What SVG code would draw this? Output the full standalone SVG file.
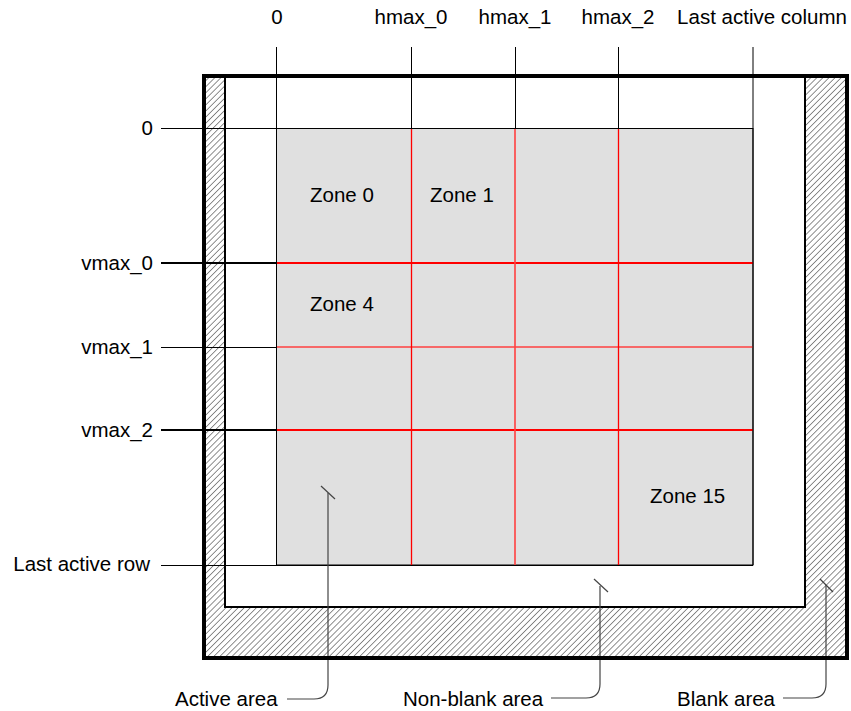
<svg xmlns="http://www.w3.org/2000/svg" width="851" height="711" viewBox="0 0 851 711">
<defs>
<pattern id="hatch" patternUnits="userSpaceOnUse" width="4.3" height="4.3" patternTransform="rotate(45)">
<line x1="0" y1="0" x2="0" y2="4.3" stroke="#333" stroke-width="1.1"/>
</pattern>
<style>
text{font-family:"Liberation Sans",Arial,sans-serif;font-size:20.5px;fill:#000}
.thin{stroke:#000;stroke-width:1;fill:none}
.thick{stroke:#000;stroke-width:2;fill:none}
.red2{stroke:#f00;stroke-width:2;fill:none}
.red1{stroke:#ff4040;stroke-width:1.6;fill:none}
.lead{stroke:#444;stroke-width:1.2;fill:none}
</style>
</defs>
<rect width="851" height="711" fill="#fff"/>
<g id="blank-area">
<rect x="204" y="76" width="643" height="582" fill="url(#hatch)"/>
</g>
<g id="non-blank-area">
<rect x="225" y="76" width="580" height="531" fill="#fff" stroke="#000" stroke-width="2"/>
</g>
<g id="active-area">
<rect x="276.5" y="128.5" width="476.5" height="436.5" fill="#e0e0e0" stroke="#000" stroke-width="1"/>
</g>
<g id="connectors">
<line class="thin" x1="161" y1="128.5" x2="753" y2="128.5"/>
<line class="thin" x1="161" y1="565.5" x2="753" y2="565.5"/>
<line class="thick" x1="161" y1="263" x2="276" y2="263"/>
<line class="thin" x1="161" y1="347.5" x2="276" y2="347.5" stroke="#555"/>
<line class="thick" x1="161" y1="430" x2="276" y2="430"/>
<line class="red2" x1="277" y1="263" x2="753" y2="263"/>
<line class="red1" x1="277" y1="347" x2="753" y2="347"/>
<line class="red2" x1="277" y1="430" x2="753" y2="430"/>
<line class="thin" x1="276.5" y1="47" x2="276.5" y2="565"/>
<line class="thin" x1="753" y1="47" x2="753" y2="565"/>
<line class="thin" x1="411.5" y1="47" x2="411.5" y2="128"/>
<line class="thin" x1="515.5" y1="47" x2="515.5" y2="128"/>
<line class="thin" x1="618.5" y1="47" x2="618.5" y2="128"/>
<line stroke="#f00" stroke-width="1.3" x1="411.5" y1="129" x2="411.5" y2="565"/>
<line class="red1" x1="515" y1="129" x2="515" y2="565"/>
<line stroke="#f00" stroke-width="1.3" x1="618.5" y1="129" x2="618.5" y2="565"/>
<path class="lead" d="M287 699 H314 Q328 699 328 685 V493"/>
<line class="lead" x1="321" y1="486" x2="335" y2="499"/>
<path class="lead" d="M551 698 H586 Q600 698 600 684 V586"/>
<line class="lead" x1="594" y1="579" x2="608" y2="592"/>
<path class="lead" d="M783 698 H812 Q826 698 826 684 V585"/>
<line class="lead" x1="820" y1="579" x2="833" y2="592"/>
</g>
<g id="outer-frame">
<rect x="204" y="76" width="643" height="582" fill="none" stroke="#000" stroke-width="4"/>
</g>
<g id="labels">
<text x="277" y="24" text-anchor="middle">0</text>
<text x="411" y="24" text-anchor="middle">hmax_0</text>
<text x="515" y="24" text-anchor="middle">hmax_1</text>
<text x="618" y="24" text-anchor="middle">hmax_2</text>
<text x="762" y="24" text-anchor="middle">Last active column</text>
<text x="153" y="135" text-anchor="end">0</text>
<text x="153" y="270" text-anchor="end">vmax_0</text>
<text x="153" y="354" text-anchor="end">vmax_1</text>
<text x="153" y="437" text-anchor="end">vmax_2</text>
<text x="150" y="571" text-anchor="end">Last active row</text>
<text x="310" y="202">Zone 0</text>
<text x="430" y="202">Zone 1</text>
<text x="310" y="311">Zone 4</text>
<text x="650" y="503">Zone 15</text>
<text x="175" y="706">Active area</text>
<text x="403" y="706">Non-blank area</text>
<text x="677" y="706">Blank area</text>
</g>
</svg>
